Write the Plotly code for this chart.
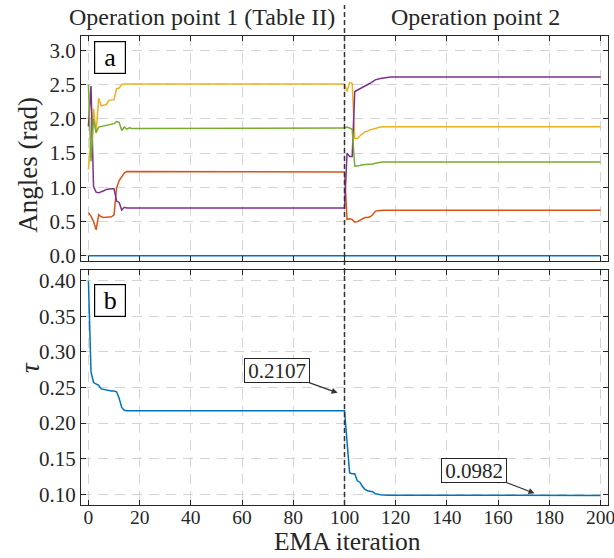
import plotly.graph_objects as go
from plotly.subplots import make_subplots

# ---- data ----
# Panel a: angles (rad)
blue_x = [0, 200]
blue_y = [0.0, 0.0]

yellow_x = [0, 1, 2, 3, 4, 5, 6, 7, 8, 9, 10, 11, 12, 13, 14, 100,
            101, 102, 103, 104, 105, 106, 107, 108, 109, 110, 112, 114, 116, 200]
yellow_y = [1.26, 1.75, 2.15, 1.80, 2.30, 2.19, 2.20, 2.21, 2.27, 2.27, 2.28, 2.44, 2.45, 2.50, 2.51, 2.51,
            2.40, 2.53, 2.52, 1.72, 1.71, 1.75, 1.78, 1.81, 1.82, 1.84, 1.86, 1.88, 1.885, 1.885]

green_x = [0, 1, 2, 3, 4, 5, 6, 7, 8, 9, 10, 11, 12, 13, 14, 15, 16, 17, 100,
           101, 102, 103, 104, 105, 106, 107, 109, 111, 113, 115, 200]
green_y = [2.50, 1.38, 2.00, 1.80, 1.88, 1.89, 1.90, 1.91, 1.92, 1.92, 1.93, 1.96, 1.95, 1.83, 1.88, 1.85, 1.87, 1.86, 1.865,
           1.88, 1.86, 1.85, 1.31, 1.31, 1.32, 1.33, 1.33, 1.34, 1.36, 1.37, 1.37]

purple_x = [0, 1, 2, 3, 4, 5, 6, 7, 8, 9, 10, 11, 12, 13, 14, 15, 100,
            101, 102, 103, 104, 105, 106, 107, 108, 110, 112, 114, 118, 200]
purple_y = [1.89, 2.48, 1.01, 0.93, 0.92, 0.93, 0.95, 0.97, 0.98, 0.98, 0.98, 0.80, 0.78, 0.67, 0.71, 0.70, 0.70,
            1.50, 1.45, 1.45, 2.40, 2.42, 2.43, 2.45, 2.48, 2.52, 2.57, 2.59, 2.61, 2.61]

orange_x = [0, 1, 2, 3, 4, 5, 6, 7, 8, 9, 10, 11, 12, 13, 14, 15, 100,
            101, 102, 103, 104, 105, 106, 107, 108, 109, 110, 111, 112, 113, 115, 200]
orange_y = [0.63, 0.58, 0.50, 0.38, 0.60, 0.57, 0.56, 0.56, 0.56, 0.57, 0.60, 0.99, 1.10, 1.16, 1.21, 1.23, 1.225,
            0.53, 0.54, 0.53, 0.49, 0.50, 0.52, 0.55, 0.56, 0.56, 0.57, 0.60, 0.65, 0.66, 0.665, 0.665]

# Panel b: tau
tau_x = [0, 1, 2, 3, 4, 5, 6, 7, 8, 9, 10, 11, 12, 13, 14, 15, 100,
         101, 102, 103, 104, 105, 106, 107, 108, 109, 110, 111, 112, 114, 117, 200]
tau_y = [0.400, 0.272, 0.257, 0.255, 0.253, 0.248, 0.247, 0.246, 0.245, 0.245, 0.245, 0.244, 0.235, 0.222, 0.218, 0.2175, 0.2175,
         0.172, 0.130, 0.129, 0.129, 0.119, 0.117, 0.111, 0.107, 0.105, 0.104, 0.1037, 0.101, 0.0995, 0.0988, 0.0985]

x_ticks = [0, 20, 40, 60, 80, 100, 120, 140, 160, 180, 200]
angle_ticks = [0.0, 0.5, 1.0, 1.5, 2.0, 2.5, 3.0]
tau_ticks = [0.10, 0.15, 0.20, 0.25, 0.30, 0.35, 0.40]

section_titles = ["Operation point 1 (Table II)", "Operation point 2"]
ann_values = ["0.2107", "0.0982"]

# ---- style ----
C_BLUE = "#0072BD"
C_ORANGE = "#D95319"
C_YELLOW = "#EDB120"
C_PURPLE = "#7E2F8E"
C_GREEN = "#77AC30"
FONT = "Liberation Serif, Times New Roman, serif"
INK = "#262626"

fig = make_subplots(rows=2, cols=1, shared_xaxes=True, vertical_spacing=0.02)

lw = 1.5
for xs, ys, c in [(blue_x, blue_y, C_BLUE), (orange_x, orange_y, C_ORANGE),
                  (yellow_x, yellow_y, C_YELLOW), (purple_x, purple_y, C_PURPLE),
                  (green_x, green_y, C_GREEN)]:
    fig.add_trace(go.Scatter(x=xs, y=ys, mode="lines", line=dict(color=c, width=lw),
                             showlegend=False), row=1, col=1)

fig.add_trace(go.Scatter(x=tau_x, y=tau_y, mode="lines", line=dict(color=C_BLUE, width=lw),
                         showlegend=False), row=2, col=1)

axis_common = dict(showline=True, linecolor=INK, linewidth=1.2, mirror="ticks",
                   ticks="inside", ticklen=5, tickcolor=INK, tickwidth=1,
                   showgrid=True, gridcolor="#d4d4d4", gridwidth=1, griddash="10px,7px",
                   zeroline=False, tickfont=dict(family=FONT, size=21, color=INK),
                   ticklabeloverflow="allow", automargin=False)

fig.update_xaxes(**axis_common, range=[-2.9, 202.9], tickvals=x_ticks)
fig.update_xaxes(tickfont=dict(family=FONT, size=19.5, color=INK), ticklabelstandoff=-6)
fig.update_xaxes(showticklabels=False, row=1, col=1)

fig.update_yaxes(**axis_common)
fig.update_yaxes(row=1, col=1, range=[-0.075, 3.21], tickvals=angle_ticks, tickformat=".1f",
                 domain=[0.5203, 1.0])
fig.update_yaxes(row=2, col=1, range=[0.085, 0.415], tickvals=tau_ticks, tickformat=".2f",
                 domain=[0.0, 0.501])

# vertical dashed separator
fig.add_shape(type="line", xref="x2", yref="paper", x0=100, x1=100, y0=0, y1=1.066,
              line=dict(color="#333333", width=1.5, dash="5px,3px"), layer="above")

# section titles
for txt, xx in [(section_titles[0], 0.2296), (section_titles[1], 0.7495)]:
    fig.add_annotation(text=txt, xref="paper", yref="paper", x=xx, y=1.040,
                       xanchor="center", yanchor="middle",
                       showarrow=False, font=dict(family=FONT, size=24, color=INK))

# axis titles
fig.add_annotation(text="EMA iteration", xref="paper", yref="paper", x=0.506, y=-0.1125,
                   xanchor="center", yanchor="bottom",
                   showarrow=False, font=dict(family=FONT, size=25.5, color=INK))
fig.add_annotation(text="Angles (rad)", xref="paper", yref="paper", x=-0.101, y=0.725,
                   xanchor="center", yanchor="middle",
                   textangle=-90, showarrow=False, font=dict(family=FONT, size=27, color=INK))
fig.add_annotation(text="<i>τ</i>", xref="paper", yref="paper", x=-0.098, y=0.293,
                   xanchor="center", yanchor="middle",
                   textangle=-90, showarrow=False, font=dict(family=FONT, size=27, color=INK))

# panel labels
for lab, yy in [("a", 0.955), ("b", 0.437)]:
    fig.add_annotation(text=lab, xref="paper", yref="paper", x=0.055, y=yy,
                       xanchor="center", yanchor="middle",
                       showarrow=False, font=dict(family=FONT, size=26, color="black"),
                       bgcolor="white", bordercolor="black", borderwidth=1.2,
                       width=26, height=27, borderpad=2)

# value annotations with arrows
fig.add_annotation(text=ann_values[0], x=97.3, y=0.2425, xref="x2", yref="y2",
                   ax=-61, ay=-22, showarrow=True, arrowhead=2, arrowsize=1, arrowwidth=1.2,
                   arrowcolor="#333333", font=dict(family=FONT, size=21, color=INK),
                   bgcolor="white", bordercolor=INK, borderwidth=1, borderpad=2,
                   width=60, height=19)
fig.add_annotation(text=ann_values[1], x=174.2, y=0.1015, xref="x2", yref="y2",
                   ax=-60.5, ay=-23, showarrow=True, arrowhead=2, arrowsize=1, arrowwidth=1.2,
                   arrowcolor="#333333", font=dict(family=FONT, size=21, color=INK),
                   bgcolor="white", bordercolor=INK, borderwidth=1, borderpad=2,
                   width=60, height=19)

fig.update_layout(width=614, height=558, margin=dict(l=81, r=6, t=36, b=53),
                  plot_bgcolor="white", paper_bgcolor="white",
                  font=dict(family=FONT, color=INK))

fig.write_html("out.html")
